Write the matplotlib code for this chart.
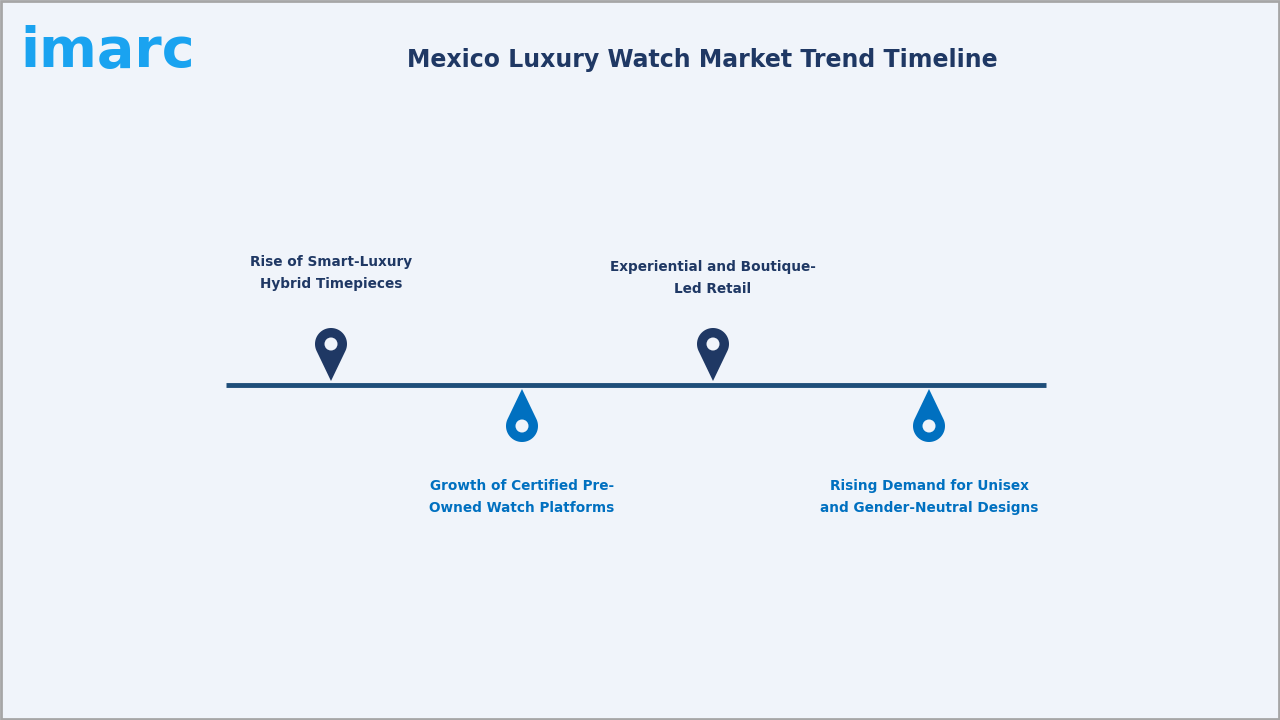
import numpy as np
import matplotlib.pyplot as plt
from matplotlib.patches import Polygon, Circle, Rectangle

title = "Mexico Luxury Watch Market Trend Timeline"
trends = ["Rise of Smart-Luxury\nHybrid Timepieces",
          "Growth of Certified Pre-\nOwned Watch Platforms",
          "Experiential and Boutique-\nLed Retail",
          "Rising Demand for Unisex\nand Gender-Neutral Designs"]
xpos = [331, 522, 713, 929]
above = [True, False, True, False]
dark, light = "#1f3864", "#0070c0"

fig = plt.figure(figsize=(12.8, 7.2), dpi=100)
fig.patch.set_facecolor("#f0f4fa")
ax = fig.add_axes([0, 0, 1, 1])
ax.set_xlim(0, 1280); ax.set_ylim(720, 0); ax.axis("off")
ax.add_patch(Rectangle((1, 1), 1278, 718, fill=False, ec="#a6a6a6", lw=2))

ax.text(20, 52, "imarc", fontsize=40, fontweight="semibold", color="#1aa3f0",
        va="center", ha="left", family="DejaVu Sans")
ax.text(702, 60, title, fontsize=17, fontweight="bold", color=dark, ha="center", va="center")

ax.plot([226, 1046], [385, 385], color="#1f4e79", lw=3.5, solid_capstyle="butt")

def pin(x, up, color):
    r = 16; d = 37
    cy = 344 if up else 426
    tip = 381 if up else 389
    a = np.arccos(r / d)
    base = np.pi / 2 if up else -np.pi / 2
    th = np.linspace(base + a, base + 2 * np.pi - a, 60)
    pts = [(x + r * np.cos(t), cy + r * np.sin(t)) for t in th]
    pts.append((x, tip))
    ax.add_patch(Polygon(pts, closed=True, fc=color, ec="none"))
    ax.add_patch(Circle((x, cy), 6.5, fc="#f0f4fa", ec="none"))

for lab, x, up in zip(trends, xpos, above):
    c = dark if up else light
    pin(x, up, c)
    y = 273 if up else 497
    if lab.startswith("Experiential"):
        y = 278
    ax.text(x, y, lab, fontsize=9.8, fontweight="bold", color=c, ha="center",
            va="center", linespacing=1.75)

fig.savefig("out.png", dpi=100, facecolor=fig.get_facecolor())
